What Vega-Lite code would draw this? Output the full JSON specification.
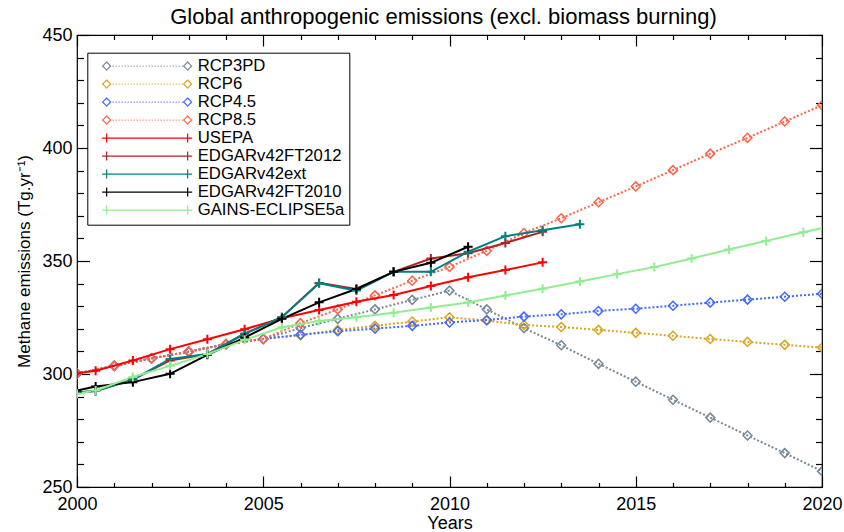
{
  "$schema": "https://vega.github.io/schema/vega-lite/v6.json",
  "width": 745,
  "height": 452,
  "autosize": {"type": "none"},
  "padding": {"left": 77, "top": 35, "right": 22, "bottom": 45},
  "background": "white",
  "title": {"text": "Global anthropogenic emissions (excl. biomass burning)", "fontSize": 22, "fontWeight": "normal", "font": "Liberation Sans", "anchor": "middle", "offset": -19.5, "baseline": "alphabetic", "color": "black", "dx": -6},
  "config": {
    "view": {"stroke": "black", "strokeWidth": 1.2},
    "font": "Liberation Sans",
    "axis": {"grid": false, "domain": false, "tickColor": "black", "tickWidth": 1.2, "labelColor": "black", "titleColor": "black", "labelFont": "Liberation Sans", "titleFont": "Liberation Sans", "titleFontWeight": "normal", "labelFontSize": 18}
  },
  "data": {"values": [
    {"series": "RCP3PD", "year": 2000, "value": 300.2}, {"series": "RCP3PD", "year": 2001, "value": 303.6}, {"series": "RCP3PD", "year": 2002, "value": 306.9}, {"series": "RCP3PD", "year": 2003, "value": 309.9}, {"series": "RCP3PD", "year": 2004, "value": 313.2}, {"series": "RCP3PD", "year": 2005, "value": 315.5}, {"series": "RCP3PD", "year": 2006, "value": 320.3}, {"series": "RCP3PD", "year": 2007, "value": 324.4}, {"series": "RCP3PD", "year": 2008, "value": 328.6}, {"series": "RCP3PD", "year": 2009, "value": 332.8}, {"series": "RCP3PD", "year": 2010, "value": 336.9}, {"series": "RCP3PD", "year": 2011, "value": 328.6}, {"series": "RCP3PD", "year": 2012, "value": 320.3}, {"series": "RCP3PD", "year": 2013, "value": 312.7}, {"series": "RCP3PD", "year": 2014, "value": 304.5}, {"series": "RCP3PD", "year": 2015, "value": 296.6}, {"series": "RCP3PD", "year": 2016, "value": 288.6}, {"series": "RCP3PD", "year": 2017, "value": 280.7}, {"series": "RCP3PD", "year": 2018, "value": 272.8}, {"series": "RCP3PD", "year": 2019, "value": 265.0}, {"series": "RCP3PD", "year": 2020, "value": 257.0},
    {"series": "RCP6", "year": 2000, "value": 300.2}, {"series": "RCP6", "year": 2001, "value": 303.6}, {"series": "RCP6", "year": 2002, "value": 306.9}, {"series": "RCP6", "year": 2003, "value": 309.9}, {"series": "RCP6", "year": 2004, "value": 313.2}, {"series": "RCP6", "year": 2005, "value": 315.5}, {"series": "RCP6", "year": 2006, "value": 317.2}, {"series": "RCP6", "year": 2007, "value": 319.5}, {"series": "RCP6", "year": 2008, "value": 321.3}, {"series": "RCP6", "year": 2009, "value": 323.2}, {"series": "RCP6", "year": 2010, "value": 325.1}, {"series": "RCP6", "year": 2011, "value": 323.6}, {"series": "RCP6", "year": 2012, "value": 321.7}, {"series": "RCP6", "year": 2013, "value": 320.8}, {"series": "RCP6", "year": 2014, "value": 319.5}, {"series": "RCP6", "year": 2015, "value": 318.2}, {"series": "RCP6", "year": 2016, "value": 316.9}, {"series": "RCP6", "year": 2017, "value": 315.5}, {"series": "RCP6", "year": 2018, "value": 314.2}, {"series": "RCP6", "year": 2019, "value": 312.9}, {"series": "RCP6", "year": 2020, "value": 311.7},
    {"series": "RCP4.5", "year": 2000, "value": 300.2}, {"series": "RCP4.5", "year": 2001, "value": 303.6}, {"series": "RCP4.5", "year": 2002, "value": 306.9}, {"series": "RCP4.5", "year": 2003, "value": 309.9}, {"series": "RCP4.5", "year": 2004, "value": 313.2}, {"series": "RCP4.5", "year": 2005, "value": 315.5}, {"series": "RCP4.5", "year": 2006, "value": 317.4}, {"series": "RCP4.5", "year": 2007, "value": 318.9}, {"series": "RCP4.5", "year": 2008, "value": 320.1}, {"series": "RCP4.5", "year": 2009, "value": 321.3}, {"series": "RCP4.5", "year": 2010, "value": 322.8}, {"series": "RCP4.5", "year": 2011, "value": 323.9}, {"series": "RCP4.5", "year": 2012, "value": 325.4}, {"series": "RCP4.5", "year": 2013, "value": 326.4}, {"series": "RCP4.5", "year": 2014, "value": 327.9}, {"series": "RCP4.5", "year": 2015, "value": 328.9}, {"series": "RCP4.5", "year": 2016, "value": 330.2}, {"series": "RCP4.5", "year": 2017, "value": 331.6}, {"series": "RCP4.5", "year": 2018, "value": 332.9}, {"series": "RCP4.5", "year": 2019, "value": 334.2}, {"series": "RCP4.5", "year": 2020, "value": 335.5},
    {"series": "RCP8.5", "year": 2000, "value": 300.2}, {"series": "RCP8.5", "year": 2001, "value": 303.6}, {"series": "RCP8.5", "year": 2002, "value": 306.9}, {"series": "RCP8.5", "year": 2003, "value": 309.9}, {"series": "RCP8.5", "year": 2004, "value": 313.2}, {"series": "RCP8.5", "year": 2005, "value": 315.5}, {"series": "RCP8.5", "year": 2006, "value": 322.5}, {"series": "RCP8.5", "year": 2007, "value": 328.6}, {"series": "RCP8.5", "year": 2008, "value": 334.8}, {"series": "RCP8.5", "year": 2009, "value": 341.3}, {"series": "RCP8.5", "year": 2010, "value": 347.4}, {"series": "RCP8.5", "year": 2011, "value": 354.5}, {"series": "RCP8.5", "year": 2012, "value": 362.4}, {"series": "RCP8.5", "year": 2013, "value": 368.9}, {"series": "RCP8.5", "year": 2014, "value": 376.0}, {"series": "RCP8.5", "year": 2015, "value": 383.0}, {"series": "RCP8.5", "year": 2016, "value": 390.2}, {"series": "RCP8.5", "year": 2017, "value": 397.5}, {"series": "RCP8.5", "year": 2018, "value": 404.5}, {"series": "RCP8.5", "year": 2019, "value": 411.7}, {"series": "RCP8.5", "year": 2020, "value": 418.9},
    {"series": "USEPA", "year": 2000, "value": 300.3}, {"series": "USEPA", "year": 2000.5, "value": 301.4}, {"series": "USEPA", "year": 2001.5, "value": 306.0}, {"series": "USEPA", "year": 2002.5, "value": 311.0}, {"series": "USEPA", "year": 2003.5, "value": 315.4}, {"series": "USEPA", "year": 2004.5, "value": 319.8}, {"series": "USEPA", "year": 2005.5, "value": 324.7}, {"series": "USEPA", "year": 2006.5, "value": 328.3}, {"series": "USEPA", "year": 2007.5, "value": 332.0}, {"series": "USEPA", "year": 2008.5, "value": 335.0}, {"series": "USEPA", "year": 2009.5, "value": 338.9}, {"series": "USEPA", "year": 2010.5, "value": 342.8}, {"series": "USEPA", "year": 2011.5, "value": 346.0}, {"series": "USEPA", "year": 2012.5, "value": 349.4},
    {"series": "EDGARv42FT2012", "year": 2000, "value": 291.8}, {"series": "EDGARv42FT2012", "year": 2000.5, "value": 292.5}, {"series": "EDGARv42FT2012", "year": 2001.5, "value": 297.5}, {"series": "EDGARv42FT2012", "year": 2002.5, "value": 306.0}, {"series": "EDGARv42FT2012", "year": 2003.5, "value": 308.8}, {"series": "EDGARv42FT2012", "year": 2004.5, "value": 317.8}, {"series": "EDGARv42FT2012", "year": 2005.5, "value": 325.1}, {"series": "EDGARv42FT2012", "year": 2006.5, "value": 340.3}, {"series": "EDGARv42FT2012", "year": 2007.5, "value": 337.6}, {"series": "EDGARv42FT2012", "year": 2008.5, "value": 345.2}, {"series": "EDGARv42FT2012", "year": 2009.5, "value": 351.1}, {"series": "EDGARv42FT2012", "year": 2010.5, "value": 353.4}, {"series": "EDGARv42FT2012", "year": 2011.5, "value": 358.0}, {"series": "EDGARv42FT2012", "year": 2012.5, "value": 362.9},
    {"series": "EDGARv42ext", "year": 2000, "value": 291.8}, {"series": "EDGARv42ext", "year": 2000.5, "value": 292.5}, {"series": "EDGARv42ext", "year": 2001.5, "value": 297.5}, {"series": "EDGARv42ext", "year": 2002.5, "value": 306.6}, {"series": "EDGARv42ext", "year": 2003.5, "value": 308.8}, {"series": "EDGARv42ext", "year": 2004.5, "value": 317.8}, {"series": "EDGARv42ext", "year": 2005.5, "value": 325.1}, {"series": "EDGARv42ext", "year": 2006.5, "value": 340.1}, {"series": "EDGARv42ext", "year": 2007.5, "value": 336.9}, {"series": "EDGARv42ext", "year": 2008.5, "value": 345.2}, {"series": "EDGARv42ext", "year": 2009.5, "value": 345.2}, {"series": "EDGARv42ext", "year": 2010.5, "value": 354.1}, {"series": "EDGARv42ext", "year": 2011.5, "value": 361.0}, {"series": "EDGARv42ext", "year": 2012.5, "value": 363.6}, {"series": "EDGARv42ext", "year": 2013.5, "value": 366.3},
    {"series": "EDGARv42FT2010", "year": 2000, "value": 292.7}, {"series": "EDGARv42FT2010", "year": 2000.5, "value": 294.5}, {"series": "EDGARv42FT2010", "year": 2001.5, "value": 296.4}, {"series": "EDGARv42FT2010", "year": 2002.5, "value": 300.1}, {"series": "EDGARv42FT2010", "year": 2003.5, "value": 308.5}, {"series": "EDGARv42FT2010", "year": 2004.5, "value": 316.1}, {"series": "EDGARv42FT2010", "year": 2005.5, "value": 324.4}, {"series": "EDGARv42FT2010", "year": 2006.5, "value": 331.7}, {"series": "EDGARv42FT2010", "year": 2007.5, "value": 337.6}, {"series": "EDGARv42FT2010", "year": 2008.5, "value": 345.2}, {"series": "EDGARv42FT2010", "year": 2009.5, "value": 349.2}, {"series": "EDGARv42FT2010", "year": 2010.5, "value": 356.3},
    {"series": "GAINS-ECLIPSE5a", "year": 2000, "value": 291.3}, {"series": "GAINS-ECLIPSE5a", "year": 2000.5, "value": 292.7}, {"series": "GAINS-ECLIPSE5a", "year": 2001.5, "value": 298.7}, {"series": "GAINS-ECLIPSE5a", "year": 2002.5, "value": 303.6}, {"series": "GAINS-ECLIPSE5a", "year": 2003.5, "value": 308.8}, {"series": "GAINS-ECLIPSE5a", "year": 2004.5, "value": 315.1}, {"series": "GAINS-ECLIPSE5a", "year": 2005.5, "value": 320.7}, {"series": "GAINS-ECLIPSE5a", "year": 2006.5, "value": 323.4}, {"series": "GAINS-ECLIPSE5a", "year": 2007.5, "value": 325.1}, {"series": "GAINS-ECLIPSE5a", "year": 2008.5, "value": 327.1}, {"series": "GAINS-ECLIPSE5a", "year": 2009.5, "value": 329.4}, {"series": "GAINS-ECLIPSE5a", "year": 2010.5, "value": 331.6}, {"series": "GAINS-ECLIPSE5a", "year": 2011.5, "value": 334.7}, {"series": "GAINS-ECLIPSE5a", "year": 2012.5, "value": 337.7}, {"series": "GAINS-ECLIPSE5a", "year": 2013.5, "value": 340.9}, {"series": "GAINS-ECLIPSE5a", "year": 2014.5, "value": 344.2}, {"series": "GAINS-ECLIPSE5a", "year": 2015.5, "value": 347.3}, {"series": "GAINS-ECLIPSE5a", "year": 2016.5, "value": 351.1}, {"series": "GAINS-ECLIPSE5a", "year": 2017.5, "value": 355.1}, {"series": "GAINS-ECLIPSE5a", "year": 2018.5, "value": 358.9}, {"series": "GAINS-ECLIPSE5a", "year": 2019.5, "value": 362.7}, {"series": "GAINS-ECLIPSE5a", "year": 2020.5, "value": 366.4}
  ]},
  "layer": [
    {
      "transform": [{"filter": {"field": "series", "oneOf": ["RCP3PD", "RCP6", "RCP4.5", "RCP8.5"]}}],
      "mark": {"type": "line", "strokeDash": [2, 2], "strokeWidth": 2, "clip": true},
      "encoding": {
        "x": {"field": "year", "type": "quantitative", "scale": {"domain": [2000, 2020], "nice": false, "zero": false},
              "axis": {"orient": "bottom", "values": [2000, 2005, 2010, 2015, 2020], "format": "d", "tickSize": -11, "labelPadding": 19, "labelFlush": false, "labelOverlap": false, "title": "Years", "titleFontSize": 18, "titlePadding": 1}},
        "y": {"field": "value", "type": "quantitative", "scale": {"domain": [250, 450], "nice": false, "zero": false},
              "axis": {"orient": "left", "values": [250, 300, 350, 400, 450], "tickSize": -12.5, "labelPadding": 17.5, "labelFlush": false, "labelOverlap": false, "title": "Methane emissions (Tg.yr⁻¹)", "titleFontSize": 17, "titlePadding": 8}},
        "color": {"field": "series", "type": "nominal",
                  "scale": {"domain": ["RCP3PD", "RCP6", "RCP4.5", "RCP8.5", "USEPA", "EDGARv42FT2012", "EDGARv42ext", "EDGARv42FT2010", "GAINS-ECLIPSE5a"],
                            "range": ["#778899", "#DAA520", "#4169FF", "#FF6347", "#FF0000", "#B22222", "#008080", "#000000", "#90EE90"]},
                  "legend": {"orient": "none", "legendX": 10.3, "legendY": 17.7, "title": null, "direction": "vertical",
                             "labelFontSize": 16.7, "labelFont": "Liberation Sans", "labelColor": "black", "labelLimit": 400,
                             "strokeColor": "black", "fillColor": "white", "padding": 5, "cornerRadius": 0,
                             "rowPadding": 0, "symbolSize": 4, "symbolStrokeWidth": 1.2, "labelOffset": 88.7,
                             "encode": {"symbols": {"update": {
                               "shape": {"signal": "substring(datum.value, 0, 3) === 'RCP' ? 'M2,0L6,-4L10,0L6,4ZM83,0L87,-4L91,0L87,4ZM12,0L13,0M15,0L16,0M18,0L19,0M21,0L22,0M24,0L25,0M27,0L28,0M30,0L31,0M33,0L34,0M36,0L37,0M39,0L40,0M42,0L43,0M45,0L46,0M48,0L49,0M51,0L52,0M54,0L55,0M57,0L58,0M60,0L61,0M63,0L64,0M66,0L67,0M69,0L70,0M72,0L73,0M75,0L76,0M78,0L79,0M81,0L82,0' : 'M1.5,0L91.5,0M6,-4.5L6,4.5M87,-4.5L87,4.5'"},
                               "fill": {"value": "transparent"},
                               "strokeDash": {"value": [1, 0]},
                               "strokeWidth": {"value": 1.2},
                               "opacity": {"value": 1},
                               "size": {"value": 4}
                             }}}}}
      }
    },
    {
      "transform": [{"filter": {"field": "series", "oneOf": ["RCP3PD", "RCP6", "RCP4.5", "RCP8.5"]}}],
      "mark": {"type": "point", "shape": "diamond", "size": 81, "filled": false, "strokeWidth": 1.5, "opacity": 1, "clip": true},
      "encoding": {
        "x": {"field": "year", "type": "quantitative", "axis": {"orient": "bottom", "values": [2001, 2002, 2003, 2004, 2006, 2007, 2008, 2009, 2011, 2012, 2013, 2014, 2016, 2017, 2018, 2019], "tickSize": -4.5, "labels": false, "title": null}},
        "y": {"field": "value", "type": "quantitative", "axis": {"orient": "left", "values": [260, 270, 280, 290, 310, 320, 330, 340, 360, 370, 380, 390, 410, 420, 430, 440], "tickSize": -6.5, "labels": false, "title": null}},
        "color": {"field": "series", "type": "nominal", "legend": null}
      }
    },
    {
      "transform": [{"filter": {"field": "series", "oneOf": ["USEPA", "EDGARv42FT2012", "EDGARv42ext", "EDGARv42FT2010", "GAINS-ECLIPSE5a"]}}],
      "mark": {"type": "line", "strokeWidth": 2, "clip": true},
      "encoding": {
        "x": {"field": "year", "type": "quantitative", "axis": {"orient": "top", "values": [2000, 2005, 2010, 2015, 2020], "tickSize": -11, "labels": false, "title": null}},
        "y": {"field": "value", "type": "quantitative", "axis": {"orient": "right", "values": [250, 300, 350, 400, 450], "tickSize": -12.5, "labels": false, "title": null}},
        "color": {"field": "series", "type": "nominal", "legend": null}
      }
    },
    {
      "transform": [{"filter": {"field": "series", "oneOf": ["USEPA", "EDGARv42FT2012", "EDGARv42ext", "EDGARv42FT2010", "GAINS-ECLIPSE5a"]}}],
      "mark": {"type": "point", "shape": "M-1,0L1,0M0,-1L0,1", "size": 81, "filled": false, "strokeWidth": 2, "opacity": 1, "clip": true},
      "encoding": {
        "x": {"field": "year", "type": "quantitative", "axis": {"orient": "top", "values": [2001, 2002, 2003, 2004, 2006, 2007, 2008, 2009, 2011, 2012, 2013, 2014, 2016, 2017, 2018, 2019], "tickSize": -4.5, "labels": false, "title": null}},
        "y": {"field": "value", "type": "quantitative", "axis": {"orient": "right", "values": [260, 270, 280, 290, 310, 320, 330, 340, 360, 370, 380, 390, 410, 420, 430, 440], "tickSize": -6.5, "labels": false, "title": null}},
        "color": {"field": "series", "type": "nominal", "legend": null}
      }
    }
  ]
}
